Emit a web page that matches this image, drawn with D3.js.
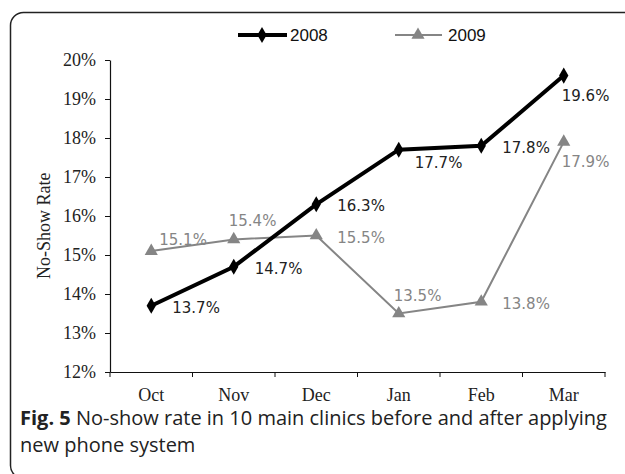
<!DOCTYPE html>
<html>
<head>
<meta charset="utf-8">
<script src="https://cdnjs.cloudflare.com/ajax/libs/d3/7.8.5/d3.min.js"></script>
<style>
  body { margin: 0; background: #fff; }
  svg { display: block; }
</style>
</head>
<body>
<div id="chart"></div>
<script>
var width = 625
var height = 474
var margin = { top: 60, right: 20, bottom: 102, left: 110 };

// chart data
var months = ["Oct", "Nov", "Dec", "Jan", "Feb", "Mar"];
var rate2008 = [13.7, 14.7, 16.3, 17.7, 17.8, 19.6];
var rate2009 = [15.1, 15.4, 15.5, 13.5, 13.8, 17.9];
var yTicks = [12, 13, 14, 15, 16, 17, 18, 19, 20];
// where each value label sits relative to its point
var pos2008 = ["r", "r", "r", "br", "r", "b"];
var pos2009 = ["tr", "t", "r", "t", "r", "b"];

var svg = d3.select("#chart").append("svg")
    .attr("width", width)
    .attr("height", height);

// frame round the figure
svg.append("rect")
    .attr("x", 10.5).attr("y", 12.5)
    .attr("width", 700).attr("height", 466)
    .attr("rx", 13).attr("ry", 13)
    .attr("fill", "none")
    .attr("stroke", "#222")
    .attr("stroke-width", 1.5);

var x = d3.scaleBand()
    .domain(months)
    .range([margin.left, 605]);

var y = d3.scaleLinear()
    .domain([12, 20])
    .range([height - margin.bottom, margin.top]);

var serif = "'Liberation Serif', 'Times New Roman', serif";
var sans = "'DejaVu Sans', Verdana, sans-serif";
var arial = "'Liberation Sans', Arial, sans-serif";

// y axis
var yAxis = svg.append("g")
    .attr("transform", "translate(" + margin.left + ",0)")
    .call(d3.axisLeft(y).tickValues(yTicks).tickSize(5).tickSizeOuter(0)
        .tickFormat(function(d) { return d + "%"; }));
yAxis.selectAll("text")
    .attr("x", -14)
    .style("font-family", serif)
    .style("font-size", "18px")
    .attr("fill", "#222");

// x axis
var xAxis = svg.append("g")
    .attr("transform", "translate(0," + y(12) + ")")
    .call(d3.axisBottom(x).tickSize(0).tickSizeOuter(0));
xAxis.selectAll("text")
    .attr("dy", "1.45em")
    .style("font-family", serif)
    .style("font-size", "18px")
    .attr("fill", "#222");
// ticks at band edges
xAxis.selectAll(".edge")
    .data(months.concat(["end"]))
    .enter().append("line")
    .attr("x1", function(d, i) { return i < months.length ? x(d) : x.range()[1]; })
    .attr("x2", function(d, i) { return i < months.length ? x(d) : x.range()[1]; })
    .attr("y1", 0).attr("y2", 5)
    .attr("stroke", "#111");

svg.selectAll(".domain").attr("stroke", "#111").attr("stroke-width", 1.2);
svg.selectAll(".tick line").attr("stroke", "#111");

// y axis title
svg.append("text")
    .attr("transform", "translate(50," + y(15.75) + ") rotate(-90)")
    .attr("text-anchor", "middle")
    .style("font-family", serif)
    .style("font-size", "18px")
    .attr("fill", "#222")
    .text("No-Show Rate");

var line = d3.line()
    .x(function(d, i) { return x(months[i]) + x.bandwidth() / 2; })
    .y(function(d) { return y(d); });

var gray = "#858585";

// 2009 series
svg.append("path")
    .datum(rate2009)
    .attr("d", line)
    .attr("fill", "none")
    .attr("stroke", gray)
    .attr("stroke-width", 2);

var tri = d3.symbol().type(d3.symbolTriangle).size(75);
svg.selectAll(".p2009")
    .data(rate2009)
    .enter().append("path")
    .attr("d", tri)
    .attr("transform", function(d, i) { return "translate(" + (x(months[i]) + x.bandwidth() / 2) + "," + y(d) + ")"; })
    .attr("fill", gray);

// 2008 series
svg.append("path")
    .datum(rate2008)
    .attr("d", line)
    .attr("fill", "none")
    .attr("stroke", "#000")
    .attr("stroke-width", 4);

var diamond = d3.symbol().type(d3.symbolDiamond).size(75);
svg.selectAll(".p2008")
    .data(rate2008)
    .enter().append("path")
    .attr("d", diamond)
    .attr("transform", function(d, i) { return "translate(" + (x(months[i]) + x.bandwidth() / 2) + "," + y(d) + ")"; })
    .attr("fill", "#000");

var offsets = {
    r: [21, 7],
    br: [16, 18],
    b: [-2, 25],
    tr: [8, -6],
    t: [-5, -13]
};

function addLabels(data, places, color) {
    svg.selectAll(null)
        .data(data)
        .enter().append("text")
        .attr("x", function(d, i) { return x(months[i]) + x.bandwidth() / 2 + offsets[places[i]][0]; })
        .attr("y", function(d, i) { return y(d) + offsets[places[i]][1]; })
        .style("font-family", sans)
        .style("font-size", "15px")
        .attr("fill", color)
        .text(function(d) { return d.toFixed(1) + "%"; });
}
addLabels(rate2008, pos2008, "#222");
addLabels(rate2009, pos2009, gray);

// legend
var legend = svg.append("g").attr("transform", "translate(0,35)");
legend.append("line").attr("x1", 238).attr("x2", 287).attr("y1", 0).attr("y2", 0)
    .attr("stroke", "#000").attr("stroke-width", 4);
legend.append("path").attr("d", diamond).attr("transform", "translate(262,0)").attr("fill", "#000");
legend.append("text").attr("x", 290).attr("y", 6)
    .style("font-family", arial).style("font-size", "17px")
    .attr("fill", "#111").text("2008");
legend.append("line").attr("x1", 395).attr("x2", 442).attr("y1", 0).attr("y2", 0)
    .attr("stroke", gray).attr("stroke-width", 2);
legend.append("path").attr("d", tri).attr("transform", "translate(418,0)").attr("fill", gray);
legend.append("text").attr("x", 448).attr("y", 6)
    .style("font-family", arial).style("font-size", "17px")
    .attr("fill", "#111").text("2009");

// caption
var cap = svg.append("text")
    .attr("x", 20).attr("y", 425)
    .style("font-family", "'Open Sans', sans-serif")
    .style("font-size", "20px")
    .attr("fill", "#222");
cap.append("tspan").style("font-weight", "bold").text("Fig. 5");
cap.append("tspan").text(" No-show rate in 10 main clinics before and after applying");
svg.append("text")
    .attr("x", 20).attr("y", 452)
    .style("font-family", "'Open Sans', sans-serif")
    .style("font-size", "20px")
    .attr("fill", "#222")
    .text("new phone system");
</script>
</body>
</html>
